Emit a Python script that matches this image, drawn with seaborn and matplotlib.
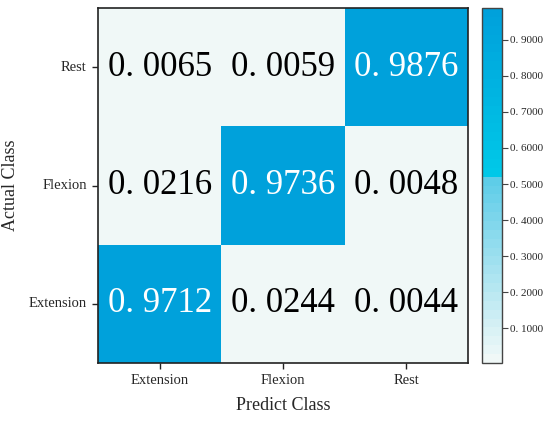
import numpy as np
import pandas as pd
import seaborn as sns
import matplotlib
matplotlib.use("Agg")
import matplotlib.pyplot as plt
from matplotlib.colors import LinearSegmentedColormap
from matplotlib.ticker import FuncFormatter

# data
actual = ['Rest', 'Flexion', 'Extension']
predict = ['Extension', 'Flexion', 'Rest']
row_rest = [0.0065, 0.0059, 0.9876]
row_flexion = [0.0216, 0.9736, 0.0048]
row_extension = [0.9712, 0.0244, 0.0044]
cbar_ticks = [0.1, 0.2, 0.3, 0.4, 0.5, 0.6, 0.7, 0.8, 0.9]

df = pd.DataFrame([row_rest, row_flexion, row_extension], index=actual, columns=predict)

sns.set_style('white')
plt.rcParams['font.family'] = ['Liberation Serif', 'DejaVu Serif']

# stepped light-to-blue map with a jump in the middle
cmap = LinearSegmentedColormap.from_list('cm', [
    (0.0, (0.94, 0.973, 0.97)),
    (0.52, (0.36, 0.80, 0.91)),
    (0.521, (0.0, 0.79, 0.91)),
    (1.0, (0.0, 0.63, 0.86)),
], N=40)

fig = plt.figure(figsize=(5.5, 4.24), dpi=100)
ax = fig.add_axes([0.178, 0.144, 0.673, 0.837])
cax = fig.add_axes([0.876, 0.144, 0.036, 0.837])

fmt = FuncFormatter(lambda v, p: f'{v:.4f}'.replace('.', '. '))
sns.heatmap(df, ax=ax, cbar_ax=cax, cmap=cmap, vmin=0.0044, vmax=0.9876,
            annot=False, cbar_kws={'ticks': cbar_ticks, 'format': fmt})

# annotations, SimSun-like spacing after the point
for i, r in enumerate(actual):
    for j, c in enumerate(predict):
        v = df.loc[r, c]
        s = f'{v:.4f}'.replace('.', '. ')
        ax.text(j + 0.5, i + 0.5, s, ha='center', va='center', fontsize=25,
                color='white' if v > 0.5 else 'black')

for sp in ax.spines.values():
    sp.set_visible(True)
    sp.set_color('#222222')
    sp.set_linewidth(1.2)

ax.tick_params(axis='both', which='both', length=4, width=1, color='#222222',
               labelsize=10.5, bottom=True, left=True, pad=4)
ax.set_yticklabels(actual, rotation=0)
ax.set_xticklabels(predict, rotation=0)
ax.set_xlabel('Predict Class', fontsize=13, labelpad=7)
ax.set_ylabel('Actual Class', fontsize=13, labelpad=7)

cax.tick_params(labelsize=8, length=4, width=0.8, color='#444444', pad=2)
cb = ax.collections[0].colorbar
cb.outline.set_visible(True)
cb.outline.set_edgecolor('#444444')
cb.outline.set_linewidth(1)

fig.savefig('out.png', dpi=100)
